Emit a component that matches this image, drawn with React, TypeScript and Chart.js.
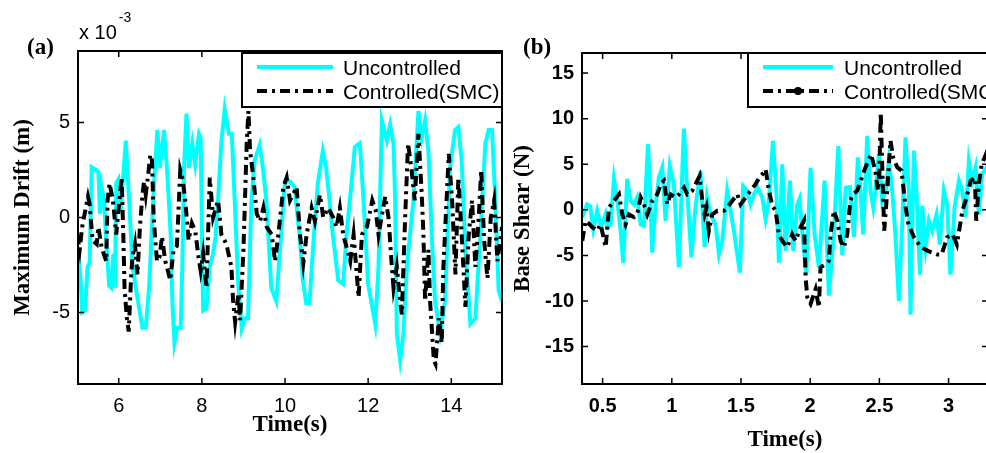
import React, { useEffect, useRef } from "react";
import { Chart, registerables } from "chart.js";

Chart.register(...registerables);

// ---------------- Data: panel (a) Maximum drift (x 10^-3 m) vs time (s) ----------------
const driftUncTime = [
  5.0, 5.08, 5.12, 5.19, 5.25, 5.3, 5.35, 5.45, 5.51, 5.55, 5.59, 5.65, 5.69, 5.77, 5.82, 5.87, 5.91, 5.94, 5.99, 6.05,
  6.17, 6.25, 6.33, 6.41, 6.57, 6.65, 6.73, 6.85, 6.93, 6.99, 7.09, 7.17, 7.25, 7.29, 7.34, 7.41, 7.49, 7.53, 7.57, 7.63,
  7.69, 7.77, 7.84, 7.93, 7.97, 8.03, 8.11, 8.19, 8.27, 8.33, 8.39, 8.47, 8.55, 8.65, 8.72, 8.79, 8.87, 8.96, 9.04, 9.11,
  9.19, 9.27, 9.39, 9.47, 9.55, 9.67, 9.79, 9.88, 10.0, 10.12, 10.23, 10.35, 10.43, 10.51, 10.59, 10.67, 10.79, 10.91, 10.99, 11.07,
  11.15, 11.28, 11.4, 11.48, 11.6, 11.68, 11.8, 11.89, 12.0, 12.17, 12.25, 12.33, 12.45, 12.53, 12.61, 12.65, 12.69, 12.77, 12.85, 12.93,
  13.09, 13.21, 13.29, 13.37, 13.45, 13.53, 13.61, 13.73, 13.85, 13.97, 14.09, 14.17, 14.25, 14.34, 14.46, 14.58, 14.7, 14.82, 14.9, 14.98,
  15.06, 15.14, 15.22,
];
const driftUnc = [
  -1.6, -3.1, -5.0, -4.9, -2.6, -2.4, 2.65, 2.5, 2.4, 0.2, 1.6, 0.9, -0.9, -3.6, -3.7, -1.9, -3.7, 1.8, 2.0, 0.4,
  4.05, 0.9, -2.5, -3.7, -5.8, -5.8, -3.7, 1.8, 4.6, 2.6, 4.6, 2.3, -0.9, -4.4, -6.6, -5.8, -5.8, -2.6, 2.6, 5.45,
  2.6, 3.9, 2.8, 4.4, 4.2, -4.9, -4.8, -2.6, -1.9, -1.0, 0.9, 4.0, 5.7, 4.4, 4.4, 0.9, -3.3, -5.86, -5.3, -5.3,
  0.8, 3.0, 3.8, 2.6, 0.9, -3.7, -4.4, -1.7, 1.9, 1.9, 1.6, -0.9, -3.3, -4.5, -4.5, -1.7, 1.8, 3.5, 2.6, 0.9,
  -0.9, -3.3, -3.5, -0.9, 1.8, 3.7, 3.9, 0.9, -3.5, -5.6, -2.6, 5.1, 4.05, 4.9, 3.9, 0.9, -6.1, -7.5, -6.1, -2.6,
  0.9, 5.6, 4.2, 5.1, 3.5, -0.9, -4.4, -6.1, -4.4, 2.6, 4.6, 4.75, 3.0, -1.7, -5.6, -5.3, -0.9, 3.9, 4.6, 4.6,
  0.9, -3.85, -4.4,
];
const driftSmcTime = [
  5.0, 5.06, 5.12, 5.26, 5.3, 5.37, 5.47, 5.51, 5.59, 5.7, 5.73, 5.78, 5.86, 5.94, 6.02, 6.07, 6.11, 6.14, 6.19, 6.24,
  6.3, 6.33, 6.39, 6.45, 6.51, 6.57, 6.61, 6.65, 6.7, 6.76, 6.8, 6.84, 6.88, 6.92, 6.98, 7.04, 7.12, 7.24, 7.32, 7.4,
  7.48, 7.54, 7.6, 7.68, 7.76, 7.84, 7.92, 7.97, 8.03, 8.11, 8.19, 8.27, 8.39, 8.47, 8.59, 8.71, 8.75, 8.8, 8.88, 8.92,
  9.0, 9.08, 9.12, 9.16, 9.24, 9.32, 9.4, 9.48, 9.56, 9.68, 9.76, 9.84, 9.96, 10.04, 10.12, 10.28, 10.36, 10.44, 10.52, 10.64,
  10.72, 10.84, 10.92, 11.04, 11.16, 11.24, 11.32, 11.4, 11.57, 11.65, 11.77, 11.85, 11.97, 12.1, 12.18, 12.25, 12.41, 12.49, 12.57, 12.61,
  12.69, 12.77, 12.81, 12.89, 12.96, 13.04, 13.12, 13.21, 13.29, 13.33, 13.37, 13.45, 13.49, 13.58, 13.62, 13.7, 13.77, 13.81, 13.94, 14.02,
  14.1, 14.17, 14.25, 14.34, 14.42, 14.5, 14.58, 14.66, 14.72, 14.79, 14.87, 14.95, 15.03, 15.11, 15.22,
];
const driftSmc = [
  -0.9, -1.7, -0.5, 1.1, 0.7, -1.2, -1.4, -0.5, -1.6, -2.3, 0.9, 1.8, 0.9, -0.9, 1.0, 2.1, -0.9, -3.7, -5.2, -6.0,
  -3.0, -2.1, -1.4, -3.0, -0.5, 1.2, 1.9, 1.2, 2.1, 3.3, 3.0, 0.0, -1.2, -2.3, -2.1, -1.0, -2.3, -3.3, -1.7, -1.5,
  2.5, 2.0, 0.9, -1.2, -0.3, -0.7, -2.1, -2.8, -1.9, -3.7, 2.1, 0.0, 0.9, -0.9, -1.4, -2.6, -4.35, -5.5, -4.0, -5.4,
  -1.7, 4.0, 5.6, 3.5, 2.1, 0.2, -0.2, 0.5, -0.5, -0.9, -2.3, -0.9, 1.6, 2.1, 0.9, 1.6, -0.9, -2.4, -0.9, 0.5,
  -0.2, 1.2, 0.0, 0.5, 0.0, -0.5, 0.5, -0.9, -2.3, -0.9, -4.2, -0.9, -0.5, 0.9, 0.4, -0.9, 1.1, 0.0, -2.6, -3.7,
  -2.6, -4.4, -5.1, 0.0, 3.9, 2.6, 0.9, 4.4, 1.2, -0.9, -4.4, -1.7, -4.4, -7.5, -7.7, -5.3, -6.6, -2.6, 3.35, 0.9,
  -3.0, 2.1, -0.9, -4.7, -0.9, 0.9, -2.6, 0.0, 2.5, -1.2, -3.2, 0.0, 0.9, -2.3, -0.5,
];
const driftXTicks = [6, 8, 10, 12, 14];
const driftYTicks = [-5, 0, 5];

// ---------------- Data: panel (b) Base shear (N) vs time (s) ----------------
const shearUncTime = [
  0.352, 0.389, 0.41, 0.433, 0.461, 0.49, 0.521, 0.535, 0.558, 0.582, 0.606, 0.63, 0.649, 0.678, 0.702, 0.726, 0.75, 0.775, 0.799, 0.828,
  0.843, 0.858, 0.883, 0.907, 0.931, 0.955, 0.986, 1.015, 1.051, 1.087, 1.111, 1.142, 1.171, 1.207, 1.237, 1.255, 1.28, 1.316, 1.341, 1.365,
  1.4, 1.425, 1.449, 1.492, 1.516, 1.545, 1.569, 1.593, 1.622, 1.654, 1.678, 1.702, 1.731, 1.755, 1.774, 1.798, 1.822, 1.854, 1.878, 1.907,
  1.923, 1.948, 1.972, 2.003, 2.032, 2.063, 2.104, 2.135, 2.171, 2.203, 2.232, 2.256, 2.287, 2.316, 2.345, 2.364, 2.383, 2.412, 2.436, 2.456,
  2.472, 2.496, 2.52, 2.545, 2.569, 2.593, 2.617, 2.641, 2.665, 2.689, 2.713, 2.725, 2.749, 2.768, 2.793, 2.81, 2.834, 2.858, 2.882, 2.913,
  2.937, 2.966, 2.99, 3.014, 3.043, 3.075, 3.099, 3.123, 3.147, 3.171, 3.195, 3.219, 3.243, 3.275, 3.295,
];
const shearUnc = [
  -0.8, 0.6, 0.4, -2.1, -0.1, -1.9, -0.5, -1.9, -1.6, 3.4, 1.0, -2.3, -5.8, 3.4, 1.0, 0.6, 1.35, -1.6, -1.75, 7.2,
  2.1, -4.7, 0.6, 3.55, 4.65, -1.2, 4.8, 2.8, -6.3, 8.9, 2.1, -5.2, 0.3, 4.3, -4.1, 1.35, -0.5, -1.6, -4.85, -3.4,
  2.1, -0.1, -2.3, -6.9, 2.6, 2.1, 0.6, 1.7, 2.4, 1.35, -1.0, 1.0, 7.55, 2.1, -5.8, 5.0, -4.5, 3.2, -4.5, 0.6,
  1.2, -3.4, -7.0, 4.6, -2.7, -6.3, 3.2, -9.4, -2.7, 7.0, -5.0, 2.4, 2.5, -3.0, 5.75, 2.0, -2.7, 8.1, 2.1, 0.25,
  2.1, 6.1, 1.0, 2.1, 5.4, 2.1, -3.0, -10.0, -1.6, 7.95, 2.1, -11.5, 6.5, 2.1, -7.1, 0.4, -4.1, -1.2, -2.3, -0.5,
  -3.8, 2.1, 0.6, -7.1, 0.25, 3.2, 2.1, -0.8, 5.4, 3.2, 4.65, -0.5, 3.9, 4.65, 3.5,
];
const shearSmcTime = [
  0.353, 0.377, 0.4, 0.425, 0.461, 0.486, 0.522, 0.546, 0.582, 0.618, 0.642, 0.666, 0.69, 0.726, 0.75, 0.775, 0.799, 0.823, 0.859, 0.895,
  0.919, 0.943, 0.967, 0.991, 1.027, 1.052, 1.088, 1.112, 1.148, 1.184, 1.201, 1.22, 1.237, 1.251, 1.268, 1.292, 1.329, 1.377, 1.401, 1.437,
  1.473, 1.497, 1.533, 1.569, 1.605, 1.63, 1.666, 1.678, 1.702, 1.726, 1.75, 1.774, 1.798, 1.834, 1.87, 1.894, 1.931, 1.955, 1.967, 1.979,
  2.003, 2.039, 2.063, 2.075, 2.111, 2.135, 2.147, 2.171, 2.196, 2.22, 2.244, 2.268, 2.29, 2.31, 2.34, 2.39, 2.44, 2.47, 2.49, 2.5,
  2.51, 2.52, 2.535, 2.555, 2.58, 2.6, 2.63, 2.66, 2.69, 2.71, 2.75, 2.8, 2.85, 2.92, 2.95, 2.99, 3.03, 3.06, 3.1, 3.13,
  3.16, 3.19, 3.2, 3.22, 3.24, 3.27, 3.3,
];
const shearSmc = [
  -3.4, -1.2, -1.5, -1.9, -2.3, -1.6, -4.1, 0.25, 1.0, 1.7, -0.5, -1.6, -0.5, -0.8, -0.5, 1.35, 0.6, -0.5, 1.0, 1.7,
  2.8, 3.2, 0.6, 1.7, 1.35, 1.7, 2.45, 1.7, 2.1, 3.2, 3.7, 1.0, -0.5, 0.25, -2.3, -0.5, -0.1, -0.1, 0.25, 1.0,
  1.7, 0.6, 1.35, 2.1, 2.8, 3.5, 4.1, 4.45, 2.1, 0.45, -0.1, -2.7, -3.4, -4.1, -2.7, -3.4, -1.9, -1.2, -7.4, -9.6,
  -10.3, -8.7, -10.7, -6.3, -5.95, -5.6, -2.7, -0.1, -1.2, -3.4, -4.1, -2.7, 1.0, 1.7, 2.1, 4.3, 6.1, 4.3, 2.1, 4.3,
  10.7, 5.0, -2.3, 1.7, 7.6, 5.75, 4.65, 4.3, 0.25, -1.6, -3.0, -4.1, -4.5, -4.9, -4.9, -3.0, -2.7, -3.8, -0.1, 1.35,
  3.2, 3.55, -1.2, 3.0, 5.0, 6.1, 4.5,
];
const shearXTicks = [0.5, 1, 1.5, 2, 2.5, 3];
const shearYTicks = [-15, -10, -5, 0, 5, 10, 15];

const seriesLabels = ["Uncontrolled", "Controlled(SMC)"];

// ---------------- Styles ----------------
const CYAN = "#00ffff";
const BLACK = "#000000";
const DASHDOT = [10, 5, 3, 5];
const SANS = "'Liberation Sans', Arial, sans-serif";
const SERIF = "'Liberation Serif', 'Times New Roman', serif";

type Spec = {
  width: number;
  height: number;
  padding: { left: number; top: number; right: number; bottom: number };
  yAxisWidth: number;
  xAxisHeight: number;
  xMin: number;
  xMax: number;
  yMin: number;
  yMax: number;
  xTicks: number[];
  yTicks: number[];
  tickFont: { family: string; size: number; weight?: string };
  xTitle: string;
  yTitle: string;
  yTitlePad: number;
  xTitlePad: number;
  uncT: number[];
  unc: number[];
  smcT: number[];
  smc: number[];
  legend: { left: number; top: number; width: number; height: number; x0: number; x1: number; textX: number; marker: boolean };
  panelLabel: { text: string; x: number; y: number };
  exponent: boolean;
};

function pts(t: number[], v: number[]) {
  return t.map((x, i) => ({ x, y: v[i] }));
}

function decorPlugin(spec: Spec) {
  return {
    id: "decor",
    afterDatasetsDraw(chart: any) {
      const { ctx, chartArea: a, scales } = chart;
      const xs = scales.x;
      const ys = scales.y;
      ctx.save();
      // inward tick marks on all four sides
      ctx.strokeStyle = "#000";
      ctx.lineWidth = 1.5;
      ctx.setLineDash([]);
      const L = 6;
      ctx.beginPath();
      xs.ticks.forEach((t: any) => {
        const px = xs.getPixelForValue(t.value);
        ctx.moveTo(px, a.bottom);
        ctx.lineTo(px, a.bottom - L);
        ctx.moveTo(px, a.top);
        ctx.lineTo(px, a.top + L);
      });
      ys.ticks.forEach((t: any) => {
        const py = ys.getPixelForValue(t.value);
        ctx.moveTo(a.left, py);
        ctx.lineTo(a.left + L, py);
        ctx.moveTo(a.right, py);
        ctx.lineTo(a.right - L, py);
      });
      ctx.stroke();
      // axes box
      ctx.lineWidth = 2;
      ctx.strokeRect(a.left, a.top, a.right - a.left, a.bottom - a.top);

      // legend
      const lg = spec.legend;
      ctx.fillStyle = "#fff";
      ctx.fillRect(lg.left, lg.top, lg.width, lg.height);
      ctx.lineWidth = 2;
      ctx.strokeStyle = "#000";
      ctx.strokeRect(lg.left, lg.top, lg.width, lg.height);
      const r1 = lg.top + 14;
      const r2 = lg.top + 38;
      ctx.lineCap = "butt";
      ctx.lineWidth = 4;
      ctx.strokeStyle = CYAN;
      ctx.beginPath();
      ctx.moveTo(lg.left + lg.x0, r1);
      ctx.lineTo(lg.left + lg.x1, r1);
      ctx.stroke();
      ctx.strokeStyle = BLACK;
      ctx.setLineDash(DASHDOT);
      ctx.beginPath();
      ctx.moveTo(lg.left + lg.x0, r2);
      ctx.lineTo(lg.left + lg.x1, r2);
      ctx.stroke();
      ctx.setLineDash([]);
      if (lg.marker) {
        ctx.fillStyle = BLACK;
        ctx.beginPath();
        ctx.arc(lg.left + (lg.x0 + lg.x1) / 2, r2, 4, 0, Math.PI * 2);
        ctx.fill();
      }
      ctx.fillStyle = "#000";
      ctx.font = `21px ${SANS}`;
      ctx.textAlign = "left";
      ctx.textBaseline = "middle";
      ctx.fillText(seriesLabels[0], lg.left + lg.textX, r1 + 2);
      ctx.fillText(seriesLabels[1], lg.left + lg.textX, r2 + 2);

      // panel label
      ctx.font = `bold 23px ${SERIF}`;
      ctx.fillText(spec.panelLabel.text, spec.panelLabel.x, spec.panelLabel.y);

      // exponent label
      if (spec.exponent) {
        ctx.font = `20px ${SANS}`;
        const base = "x 10";
        ctx.fillText(base, a.left + 1, 33);
        const w = ctx.measureText(base).width;
        ctx.font = `14px ${SANS}`;
        ctx.fillText("-3", a.left + 3 + w, 18);
      }
      ctx.restore();
    },
  };
}

function makeConfig(spec: Spec): any {
  const fixedTicks = (vals: number[]) => (s: any) => {
    s.ticks = vals.map((v) => ({ value: v }));
  };
  return {
    type: "line",
    data: {
      datasets: [
        {
          label: seriesLabels[0],
          data: pts(spec.uncT, spec.unc),
          borderColor: CYAN,
          borderWidth: 4,
          pointRadius: 0,
          tension: 0,
          fill: false,
          order: 2,
        },
        {
          label: seriesLabels[1],
          data: pts(spec.smcT, spec.smc),
          borderColor: BLACK,
          borderWidth: 4,
          borderDash: DASHDOT,
          pointRadius: 0,
          tension: 0,
          fill: false,
          order: 1,
        },
      ],
    },
    options: {
      animation: false,
      responsive: false,
      devicePixelRatio: 1,
      events: [],
      layout: { padding: spec.padding, autoPadding: false },
      plugins: { legend: { display: false }, tooltip: { enabled: false }, title: { display: false } },
      scales: {
        x: {
          type: "linear",
          min: spec.xMin,
          max: spec.xMax,
          afterBuildTicks: fixedTicks(spec.xTicks),
          afterFit: (s: any) => {
            s.height = spec.xAxisHeight;
            s.paddingLeft = 0;
            s.paddingRight = 0;
            s.paddingTop = 0;
            s.paddingBottom = 0;
          },
          ticks: {
            font: spec.tickFont,
            color: "#000",
            padding: 10,
            maxRotation: 0,
            autoSkip: false,
            callback: (v: any) => String(v),
          },
          grid: { display: false, drawTicks: false },
          border: { display: false },
          title: {
            display: true,
            text: spec.xTitle,
            color: "#000",
            font: { family: SERIF, size: 23, weight: "bold" },
            padding: { top: 0, bottom: spec.xTitlePad },
          },
        },
        y: {
          type: "linear",
          min: spec.yMin,
          max: spec.yMax,
          afterBuildTicks: fixedTicks(spec.yTicks),
          afterFit: (s: any) => {
            s.width = spec.yAxisWidth;
            s.paddingLeft = 0;
            s.paddingRight = 0;
            s.paddingTop = 0;
            s.paddingBottom = 0;
          },
          ticks: {
            font: spec.tickFont,
            color: "#000",
            padding: 8,
            autoSkip: false,
            callback: (v: any) => String(v),
          },
          grid: { display: false, drawTicks: false },
          border: { display: false },
          title: {
            display: true,
            text: spec.yTitle,
            color: "#000",
            font: { family: SERIF, size: 23, weight: "bold" },
            padding: { top: spec.yTitlePad, bottom: 0 },
          },
        },
      },
    },
    plugins: [decorPlugin(spec)],
  };
}

const specA: Spec = {
  width: 505,
  height: 453,
  padding: { left: 0, top: 51, right: 3, bottom: 0 },
  yAxisWidth: 78,
  xAxisHeight: 69,
  xMin: 5.02,
  xMax: 15.22,
  yMin: -8.76,
  yMax: 8.76,
  xTicks: driftXTicks,
  yTicks: driftYTicks,
  tickFont: { family: SANS, size: 20 },
  xTitle: "Time(s)",
  yTitle: "Maximum Drift (m)",
  yTitlePad: 9,
  xTitlePad: 14,
  uncT: driftUncTime,
  unc: driftUnc,
  smcT: driftSmcTime,
  smc: driftSmc,
  legend: { left: 242, top: 53, width: 260, height: 54, x0: 15, x1: 91, textX: 101, marker: false },
  panelLabel: { text: "(a)", x: 27, y: 48 },
  exponent: true,
};

const specB: Spec = {
  width: 520,
  height: 460,
  padding: { left: 0, top: 53, right: 37, bottom: 0 },
  yAxisWidth: 77,
  xAxisHeight: 76,
  xMin: 0.351,
  xMax: 3.285,
  yMin: -19.1,
  yMax: 17.2,
  xTicks: shearXTicks,
  yTicks: shearYTicks,
  tickFont: { family: SANS, size: 20, weight: "bold" },
  xTitle: "Time(s)",
  yTitle: "Base Shear (N)",
  yTitlePad: 4,
  xTitlePad: 6,
  uncT: shearUncTime,
  unc: shearUnc,
  smcT: shearSmcTime,
  smc: shearSmc,
  legend: { left: 243, top: 53, width: 260, height: 54, x0: 15, x1: 85, textX: 96, marker: true },
  panelLabel: { text: "(b)", x: 18, y: 48 },
  exponent: false,
};

export default function App() {
  const refA = useRef<HTMLCanvasElement>(null);
  const refB = useRef<HTMLCanvasElement>(null);
  useEffect(() => {
    const ca = new Chart(refA.current as HTMLCanvasElement, makeConfig(specA));
    const cb = new Chart(refB.current as HTMLCanvasElement, makeConfig(specB));
    return () => {
      ca.destroy();
      cb.destroy();
    };
  }, []);
  return (
    <div
      style={{
        position: "fixed",
        left: 0,
        top: 0,
        width: 986,
        height: 453,
        overflow: "hidden",
        background: "#fff",
      }}
    >
      <canvas
        ref={refA}
        width={specA.width}
        height={specA.height}
        style={{ position: "absolute", left: 0, top: 0, width: specA.width, height: specA.height }}
      />
      <canvas
        ref={refB}
        width={specB.width}
        height={specB.height}
        style={{ position: "absolute", left: 505, top: 0, width: specB.width, height: specB.height }}
      />
    </div>
  );
}
